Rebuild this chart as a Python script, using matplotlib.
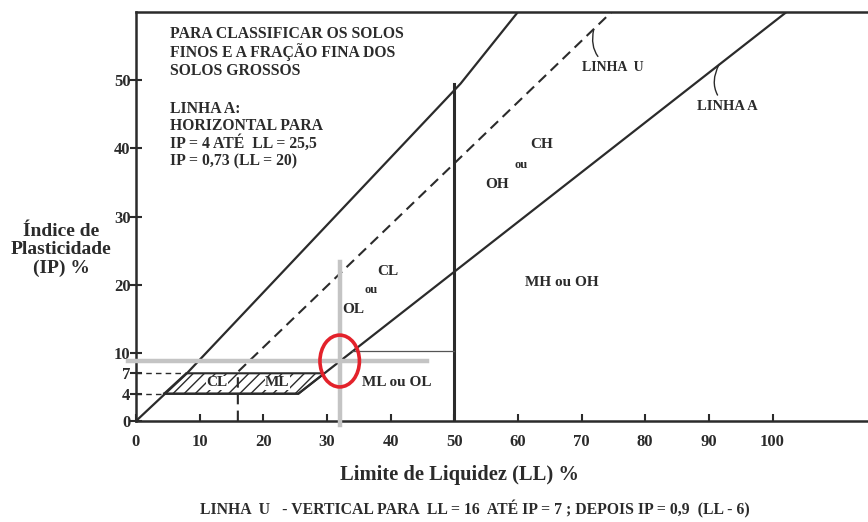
import matplotlib.pyplot as plt
from matplotlib.patches import Polygon, Ellipse

# limite superior (IP ~ LL)
upper_ll = [0, 8, 51, 60]
upper_ip = [0, 7, 49.5, 60]

# linha U: vertical em LL=16 ate IP=7, depois IP=0,9(LL-8)
u_ll = [16, 16, 74.7]
u_ip = [0, 7.2, 60]

# linha A: horizontal IP=4 ate LL=25,5, depois IP=0,73(LL-20)
a_ll = [4.4, 25.5, 102.2]
a_ip = [4, 4, 60]

# faixa CL-ML hachurada
band_ll = [4.4, 7.9, 29.6, 25.5]
band_ip = [4, 7, 7, 4]

# divisoria LL = 50
ll50 = 50
ll50_top = 49.5

# linha fina IP ~ 10 entre linha A e LL=50
thin_ll = [34, 50]
thin_ip = [10.3, 10.3]

# destaque em cinza + circulo
mark_ll = 32
mark_ip = 8.8
mark_h_ll = [-1.3, 45.7]
mark_v_ip = [-0.6, 23.3]

xticks = list(range(0, 101, 10))
yticks = [0, 4, 7, 10, 20, 30, 40, 50]

plt.rcParams['font.family'] = ['Liberation Serif', 'DejaVu Serif']
plt.rcParams['font.weight'] = 'bold'
plt.rcParams['hatch.linewidth'] = 1.0
plt.rcParams['hatch.color'] = '#555555'

ink = '#2b2b2b'

fig = plt.figure(figsize=(8.68, 5.22), dpi=100)
ax = fig.add_axes([136 / 868, 1 - 421 / 522, 1 - 136 / 868, (421 - 12) / 522])
ax.set_xlim(0, 115)
ax.set_ylim(0, 60)

# faixa hachurada
ax.add_patch(Polygon(list(zip(band_ll, band_ip)), closed=True, facecolor='none',
                     edgecolor=ink, hatch='///', linewidth=1.5))

ax.plot(upper_ll, upper_ip, color=ink, lw=1.6)
ax.plot(a_ll, a_ip, color=ink, lw=1.6)
ax.plot(u_ll, u_ip, color=ink, lw=1.5, ls=(0, (5, 3)))
ax.plot([ll50, ll50], [0, ll50_top], color=ink, lw=2.2)
ax.plot(thin_ll, thin_ip, color='#555555', lw=0.9)

# tracejados horizontais IP=7 e IP=4
ax.plot([0, band_ll[1]], [band_ip[1], band_ip[1]], color=ink, lw=1.0, ls=(0, (4, 3)))
ax.plot([0, band_ll[0]], [band_ip[0], band_ip[0]], color=ink, lw=1.0, ls=(0, (4, 3)))

# marcacao cinza e circulo vermelho
ax.plot(mark_h_ll, [mark_ip, mark_ip], color='#c4c4c4', lw=3.2, clip_on=False, zorder=4)
ax.plot([mark_ll, mark_ll], mark_v_ip, color='#c4c4c4', lw=3.2, clip_on=False, zorder=4)
ax.add_patch(Ellipse((mark_ll, mark_ip), 6.2, 7.6, facecolor='none',
                     edgecolor='#e3222b', lw=2.6, zorder=5))

# textos das regioes
fs = 11
ax.text(12.7, 5.6, 'CL', fontsize=fs, ha='center', va='center', color=ink,
        bbox=dict(facecolor='white', edgecolor='none', pad=0.3))
ax.text(22.2, 5.6, 'ML', fontsize=fs, ha='center', va='center', color=ink,
        bbox=dict(facecolor='white', edgecolor='none', pad=0.3))
ax.text(41.0, 5.6, 'ML ou OL', fontsize=fs, ha='center', va='center', color=ink)
ax.text(39.6, 21.9, 'CL', fontsize=fs, ha='center', va='center', color=ink)
ax.text(36.9, 19.2, 'ou', fontsize=9, ha='center', va='center', color=ink)
ax.text(34.1, 16.3, 'OL', fontsize=fs, ha='center', va='center', color=ink)
ax.text(66.9, 20.3, 'MH ou OH', fontsize=fs, ha='center', va='center', color=ink)
ax.text(63.8, 40.5, 'CH', fontsize=fs, ha='center', va='center', color=ink)
ax.text(60.5, 37.6, 'ou', fontsize=9, ha='center', va='center', color=ink)
ax.text(56.7, 34.7, 'OH', fontsize=fs, ha='center', va='center', color=ink)

ax.annotate('LINHA  U', xy=(71.9, 57.4), xytext=(74.9, 51.8), fontsize=10,
            ha='center', va='center', color=ink,
            arrowprops=dict(arrowstyle='-', color=ink, lw=1.0,
                            shrinkB=0, connectionstyle='arc3,rad=-0.4'))
ax.annotate('LINHA A', xy=(91.6, 52.3), xytext=(92.9, 46.1), fontsize=10.5,
            ha='center', va='center', color=ink,
            arrowprops=dict(arrowstyle='-', color=ink, lw=1.0,
                            shrinkB=0, connectionstyle='arc3,rad=-0.4'))

ax.text(5.3, 58.0,
        'PARA CLASSIFICAR OS SOLOS\nFINOS E A FRAÇÃO FINA DOS\nSOLOS GROSSOS',
        fontsize=11.3, ha='left', va='top', linespacing=1.12, color=ink)
ax.text(5.3, 47.0,
        'LINHA A:\nHORIZONTAL PARA\nIP = 4 ATÉ  LL = 25,5\nIP = 0,73 (LL = 20)',
        fontsize=11.3, ha='left', va='top', linespacing=1.12, color=ink)

# eixos
for s in ['left', 'bottom', 'top']:
    ax.spines[s].set_linewidth(1.8)
    ax.spines[s].set_color(ink)
ax.spines['right'].set_visible(False)

ax.set_xticks(xticks)
ax.set_yticks(yticks)
ax.tick_params(axis='x', direction='in', length=5, width=1.5, labelsize=12,
               pad=9, colors=ink)
ax.tick_params(axis='y', direction='inout', length=8, width=1.5, labelsize=12,
               pad=0, colors=ink)

fig.text(459 / 868, 1 - 475 / 522, 'Limite de Liquidez (LL) %', fontsize=14.8,
         ha='center', va='center', color=ink)
fig.text(61 / 868, 1 - 250 / 522, 'Índice de\nPlasticidade\n(IP) %', fontsize=14,
         ha='center', va='center', color=ink, linespacing=1.1)

fig.text(475 / 868, 1 - 509 / 522,
         'LINHA  U   - VERTICAL PARA  LL = 16  ATÉ IP = 7 ; DEPOIS IP = 0,9  (LL - 6)',
         fontsize=11.3, ha='center', va='center', color=ink)

fig.savefig('out.png', dpi=100, facecolor='white')
